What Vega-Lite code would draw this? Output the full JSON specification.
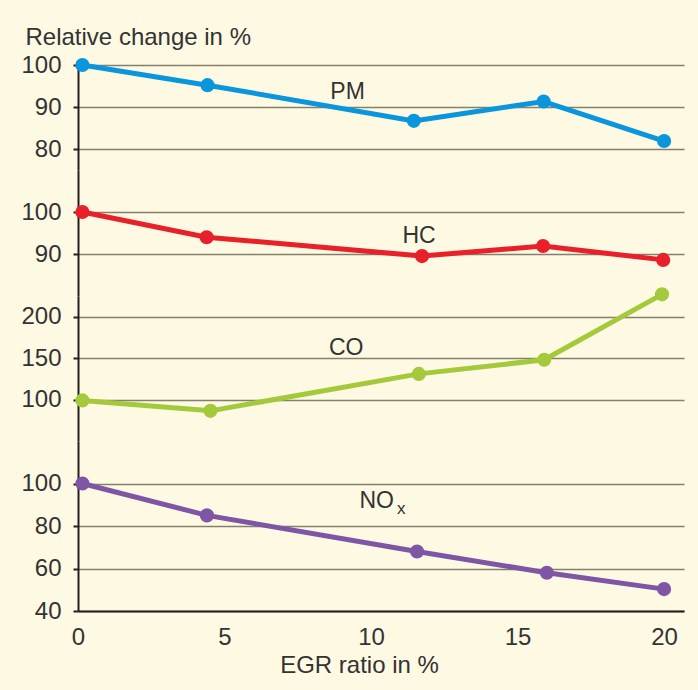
{
  "$schema": "https://vega.github.io/schema/vega-lite/v6.json",
  "background": "#FEF9E2",
  "padding": {"left": 20, "top": 25, "right": 14, "bottom": 13},
  "autosize": {"type": "pad"},
  "bounds": "flush",
  "spacing": 0,
  "datasets": {
    "emissions": [
      {"series": "PM", "egr": 0.15, "change": 100},
      {"series": "PM", "egr": 4.42, "change": 95.2},
      {"series": "PM", "egr": 11.46, "change": 86.7},
      {"series": "PM", "egr": 15.89, "change": 91.3},
      {"series": "PM", "egr": 20.0, "change": 81.9},
      {"series": "HC", "egr": 0.15, "change": 100},
      {"series": "HC", "egr": 4.39, "change": 94.0},
      {"series": "HC", "egr": 11.74, "change": 89.5},
      {"series": "HC", "egr": 15.87, "change": 91.9},
      {"series": "HC", "egr": 19.97, "change": 88.6},
      {"series": "CO", "egr": 0.15, "change": 99},
      {"series": "CO", "egr": 4.52, "change": 86.4},
      {"series": "CO", "egr": 11.63, "change": 131},
      {"series": "CO", "egr": 15.91, "change": 148},
      {"series": "CO", "egr": 19.93, "change": 227},
      {"series": "NOx", "egr": 0.15, "change": 100},
      {"series": "NOx", "egr": 4.4, "change": 85},
      {"series": "NOx", "egr": 11.57, "change": 68},
      {"series": "NOx", "egr": 16.0, "change": 58},
      {"series": "NOx", "egr": 20.0, "change": 50.3}
    ]
  },
  "config": {
    "view": {"stroke": null},
    "font": "Liberation Sans",
    "concat": {"spacing": 0},
    "axis": {
      "labelFont": "Liberation Sans", "labelFontSize": 24, "labelColor": "#333333", "labelFontWeight": "normal",
      "titleFont": "Liberation Sans", "titleFontSize": 24, "titleFontWeight": "normal", "titleColor": "#333333",
      "domainColor": "#231F20", "domainWidth": 2, "tickColor": "#231F20", "tickWidth": 2, "tickSize": 5,
      "gridColor": "#857F6E", "gridWidth": 1.5, "gridOpacity": 1, "labelFlush": false, "labelOverlap": false
    },
    "text": {"font": "Liberation Sans", "fontSize": 23, "color": "#333333"}
  },
  "vconcat": [
    {
      "width": 606, "height": 105,
      "layer": [
        {
          "data": {"name": "emissions"},
          "transform": [{"filter": "datum.series === 'PM'"}],
          "mark": {"type": "line", "color": "#0A96DC", "strokeWidth": 5, "clip": false, "point": {"filled": true, "size": 200, "color": "#0A96DC", "opacity": 1}},
          "encoding": {
            "x": {"field": "egr", "type": "quantitative", "scale": {"domain": [0, 20.68], "nice": false, "zero": false}, "axis": null},
            "y": {"field": "change", "type": "quantitative", "scale": {"domain": [75, 100], "nice": false, "zero": false},
                  "axis": {"values": [80, 90, 100], "grid": true, "labelPadding": 12, "title": "Relative change in %", "titleAngle": 0, "titleAlign": "left", "titleBaseline": "alphabetic", "titleX": -53, "titleY": -21}}
          }
        },
        {
          "data": {"values": [{"label": "PM"}]},
          "mark": {"type": "text", "align": "center", "baseline": "alphabetic"},
          "encoding": {
            "text": {"field": "label"},
            "x": {"datum": 9.2, "type": "quantitative"},
            "y": {"datum": 91.9, "type": "quantitative"}
          }
        }
      ]
    },
    {
      "width": 606, "height": 126,
      "layer": [
        {
          "data": {"name": "emissions"},
          "transform": [{"filter": "datum.series === 'HC'"}],
          "mark": {"type": "line", "color": "#E8202A", "strokeWidth": 5, "clip": false, "point": {"filled": true, "size": 200, "color": "#E8202A", "opacity": 1}},
          "encoding": {
            "x": {"field": "egr", "type": "quantitative", "scale": {"domain": [0, 20.68], "nice": false, "zero": false}, "axis": null},
            "y": {"field": "change", "type": "quantitative", "scale": {"domain": [80, 110], "nice": false, "zero": false},
                  "axis": {"values": [90, 100], "grid": true, "labelPadding": 12, "title": null}}
          }
        },
        {
          "data": {"values": [{"label": "HC"}]},
          "mark": {"type": "text", "align": "center", "baseline": "alphabetic"},
          "encoding": {
            "text": {"field": "label"},
            "x": {"datum": 11.64, "type": "quantitative"},
            "y": {"datum": 92.6, "type": "quantitative"}
          }
        }
      ]
    },
    {
      "width": 606, "height": 145,
      "layer": [
        {
          "data": {"name": "emissions"},
          "transform": [{"filter": "datum.series === 'CO'"}],
          "mark": {"type": "line", "color": "#A4C93B", "strokeWidth": 5, "clip": false, "point": {"filled": true, "size": 200, "color": "#A4C93B", "opacity": 1}},
          "encoding": {
            "x": {"field": "egr", "type": "quantitative", "scale": {"domain": [0, 20.68], "nice": false, "zero": false}, "axis": null},
            "y": {"field": "change", "type": "quantitative", "scale": {"domain": [50, 225], "nice": false, "zero": false},
                  "axis": {"values": [100, 150, 200], "grid": true, "labelPadding": 12, "title": null}}
          }
        },
        {
          "data": {"values": [{"label": "CO"}]},
          "mark": {"type": "text", "align": "center", "baseline": "alphabetic"},
          "encoding": {
            "text": {"field": "label"},
            "x": {"datum": 9.15, "type": "quantitative"},
            "y": {"datum": 153.8, "type": "quantitative"}
          }
        }
      ]
    },
    {
      "width": 606, "height": 170,
      "layer": [
        {
          "data": {"name": "emissions"},
          "transform": [{"filter": "datum.series === 'NOx'"}],
          "mark": {"type": "line", "color": "#7E56A5", "strokeWidth": 5, "clip": false, "point": {"filled": true, "size": 200, "color": "#7E56A5", "opacity": 1}},
          "encoding": {
            "x": {"field": "egr", "type": "quantitative", "scale": {"domain": [0, 20.68], "nice": false, "zero": false},
                  "axis": {"values": [0, 5, 10, 15, 20], "ticks": false, "tickSize": 0, "labelPadding": 14, "grid": false, "title": "EGR ratio in %", "titleX": 281, "titleY": 61, "titleAlign": "center", "titleBaseline": "alphabetic"}},
            "y": {"field": "change", "type": "quantitative", "scale": {"domain": [40, 120], "nice": false, "zero": false},
                  "axis": {"values": [40, 60, 80, 100], "grid": true, "labelPadding": 12, "title": null}}
          }
        },
        {
          "data": {"values": [{"label": "NO"}]},
          "mark": {"type": "text", "align": "right", "baseline": "alphabetic"},
          "encoding": {
            "text": {"field": "label"},
            "x": {"datum": 10.78, "type": "quantitative"},
            "y": {"datum": 88.5, "type": "quantitative"}
          }
        },
        {
          "data": {"values": [{"label": "x"}]},
          "mark": {"type": "text", "align": "left", "baseline": "alphabetic", "fontSize": 17, "dx": 3, "dy": 6},
          "encoding": {
            "text": {"field": "label"},
            "x": {"datum": 10.78, "type": "quantitative"},
            "y": {"datum": 88.5, "type": "quantitative"}
          }
        }
      ]
    }
  ]
}
